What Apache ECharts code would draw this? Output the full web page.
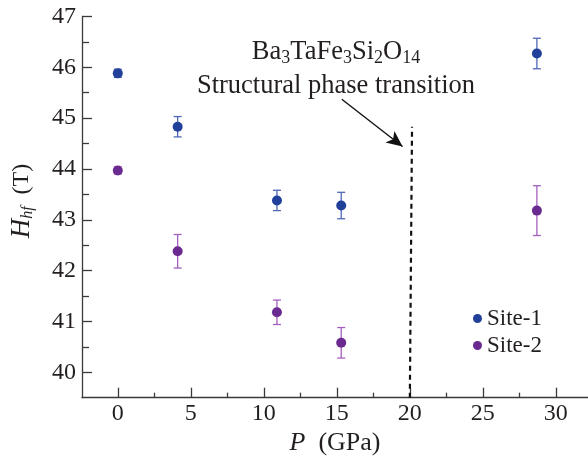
<!DOCTYPE html>
<html>
<head>
<meta charset="utf-8">
<script src="https://cdn.jsdelivr.net/npm/echarts@6/dist/echarts.min.js"></script>
<style>html,body{margin:0;padding:0;background:#fff}#c{width:588px;height:456px}</style>
</head>
<body>
<div id="c"></div>
<script>
// ---- data ----
const pressure1 = [0, 4.1, 10.9, 15.3, 28.7];
const site1 = [45.88, 44.83, 43.38, 43.28, 46.27];
const site1Err = [0.08, 0.2, 0.2, 0.26, 0.3];
const pressure2 = [0, 4.1, 10.9, 15.3, 28.7];
const site2 = [43.97, 42.38, 41.18, 40.58, 43.18];
const site2Err = [0.07, 0.33, 0.24, 0.3, 0.49];
const xMajorTicks = [0, 5, 10, 15, 20, 25, 30];
const xMinorTicks = [2.5, 7.5, 12.5, 17.5, 22.5, 27.5];
const yMajorTicks = [40, 41, 42, 43, 44, 45, 46, 47];
const yMinorTicks = [40.5, 41.5, 42.5, 43.5, 44.5, 45.5, 46.5];
const transitionLine = [[20.0, 39.5], [20.15, 44.83]];
const arrowFrom = [15.34, 45.37];
const arrowTo = [19.5, 44.44];
const titleFormula = 'Ba{s|3}TaFe{s|3}Si{s|2}O{s|14}';
const titleText = 'Structural phase transition';

const FONT = "'Liberation Serif', 'Times New Roman', Times, serif";
const TXT = '#231f20';
const AX = '#3a3a3a';
const XMIN = -2.45, XMAX = 32.2, YMIN = 39.5, YMAX = 47;

function errData(xs, ys, es) { return xs.map((x, i) => [x, ys[i] - es[i], ys[i] + es[i]]); }
function errSeries(name, xs, ys, es, color) {
  return {
    type: 'custom', name: name, silent: true, z: 2,
    data: errData(xs, ys, es),
    renderItem: function (params, api) {
      const lo = api.coord([api.value(0), api.value(1)]);
      const hi = api.coord([api.value(0), api.value(2)]);
      const w = 4;
      const st = { stroke: color, lineWidth: 1.3 };
      return { type: 'group', children: [
        { type: 'line', shape: { x1: lo[0], y1: lo[1], x2: hi[0], y2: hi[1] }, style: st },
        { type: 'line', shape: { x1: lo[0] - w, y1: lo[1], x2: lo[0] + w, y2: lo[1] }, style: st },
        { type: 'line', shape: { x1: hi[0] - w, y1: hi[1], x2: hi[0] + w, y2: hi[1] }, style: st }
      ]};
    }
  };
}

const chart = echarts.init(document.getElementById('c'));
chart.setOption({
  backgroundColor: '#fff',
  animation: false,
  textStyle: { fontFamily: FONT, color: TXT },
  grid: { left: 82, right: 0, top: 16.4, bottom: 58.3, containLabel: false, outerBoundsMode: 'none' },
  legend: {
    orient: 'vertical', left: 468, top: 302, itemWidth: 9, itemHeight: 9, itemGap: 4,
    icon: 'circle',
    textStyle: { fontFamily: FONT, fontSize: 23, color: TXT, lineHeight: 23 },
    data: ['Site-1', 'Site-2']
  },
  xAxis: [
    {
      type: 'value', min: XMIN, max: XMAX, position: 'bottom',
      axisLine: { show: true, onZero: false, lineStyle: { color: AX, width: 1.3 } },
      axisTick: { show: true, inside: true, length: 10, customValues: xMajorTicks, lineStyle: { color: AX, width: 1.3 } },
      axisLabel: { customValues: xMajorTicks, fontFamily: FONT, fontSize: 24, color: TXT, margin: 4 },
      splitLine: { show: false },
      name: '{i|P}  (GPa)', nameLocation: 'middle', nameGap: 29,
      nameTextStyle: { fontFamily: FONT, fontSize: 26, color: TXT,
        rich: { i: { fontStyle: 'italic', fontFamily: FONT, fontSize: 26, color: TXT } } }
    },
    {
      type: 'value', min: XMIN, max: XMAX, position: 'bottom',
      axisLine: { show: false, onZero: false },
      axisTick: { show: true, inside: true, length: 5, customValues: xMinorTicks, lineStyle: { color: AX, width: 1.3 } },
      axisLabel: { show: false },
      splitLine: { show: false }
    }
  ],
  yAxis: [
    {
      type: 'value', min: YMIN, max: YMAX, position: 'left',
      axisLine: { show: true, onZero: false, lineStyle: { color: AX, width: 1.3 } },
      axisTick: { show: true, inside: true, length: 10, customValues: yMajorTicks, lineStyle: { color: AX, width: 1.3 } },
      axisLabel: { customValues: yMajorTicks, fontFamily: FONT, fontSize: 24, color: TXT, margin: 6 },
      splitLine: { show: false },
      name: '{i|H}{sub|hf}  (T)', nameLocation: 'middle', nameGap: 46, nameRotate: 90,
      nameTextStyle: { fontFamily: FONT, fontSize: 24, color: TXT, padding: [0, 0, 0, 12],
        rich: {
          i: { fontStyle: 'italic', fontFamily: FONT, fontSize: 27, color: TXT, lineHeight: 28 },
          sub: { fontStyle: 'italic', fontFamily: FONT, fontSize: 16, color: TXT, lineHeight: 16, padding: [11, 0, 0, 0] }
        } }
    },
    {
      type: 'value', min: YMIN, max: YMAX, position: 'left',
      axisLine: { show: false, onZero: false },
      axisTick: { show: true, inside: true, length: 7, customValues: yMinorTicks, lineStyle: { color: AX, width: 1.3 } },
      axisLabel: { show: false },
      splitLine: { show: false }
    }
  ],
  graphic: [
    {
      type: 'text', x: 336, y: 39,
      style: { text: titleFormula, fontFamily: FONT, fontSize: 26.5, fill: TXT, align: 'center', verticalAlign: 'top',
        rich: {
          s: { fontFamily: FONT, fontSize: 18, fill: TXT, lineHeight: 18, padding: [11, 0, 0, 0] }
        } }
    },
    {
      type: 'text', x: 336, y: 73,
      style: { text: titleText, fontFamily: FONT, fontSize: 26.5, fill: TXT, align: 'center', verticalAlign: 'top' }
    }
  ],
  series: [
    errSeries('err1', pressure1, site1, site1Err, '#5067b8'),
    errSeries('err2', pressure2, site2, site2Err, '#a45fbd'),
    {
      type: 'scatter', name: 'Site-1', symbol: 'circle', symbolSize: 10, z: 3,
      itemStyle: { color: '#21409a', opacity: 1 },
      data: pressure1.map((x, i) => [x, site1[i]])
    },
    {
      type: 'scatter', name: 'Site-2', symbol: 'circle', symbolSize: 10, z: 3,
      itemStyle: { color: '#6a2a90', opacity: 1 },
      data: pressure2.map((x, i) => [x, site2[i]])
    },
    {
      type: 'line', name: 'transition', silent: true, symbol: 'none', z: 2,
      lineStyle: { color: '#111', width: 2.2, type: [5, 4] },
      data: transitionLine,
      markLine: {
        silent: true, symbol: ['none', 'arrow'], symbolSize: [11, 16],
        label: { show: false },
        lineStyle: { color: '#111', width: 1.4, type: 'solid' },
        data: [[{ coord: arrowFrom }, { coord: arrowTo }]]
      }
    }
  ]
});
</script>
</body>
</html>
